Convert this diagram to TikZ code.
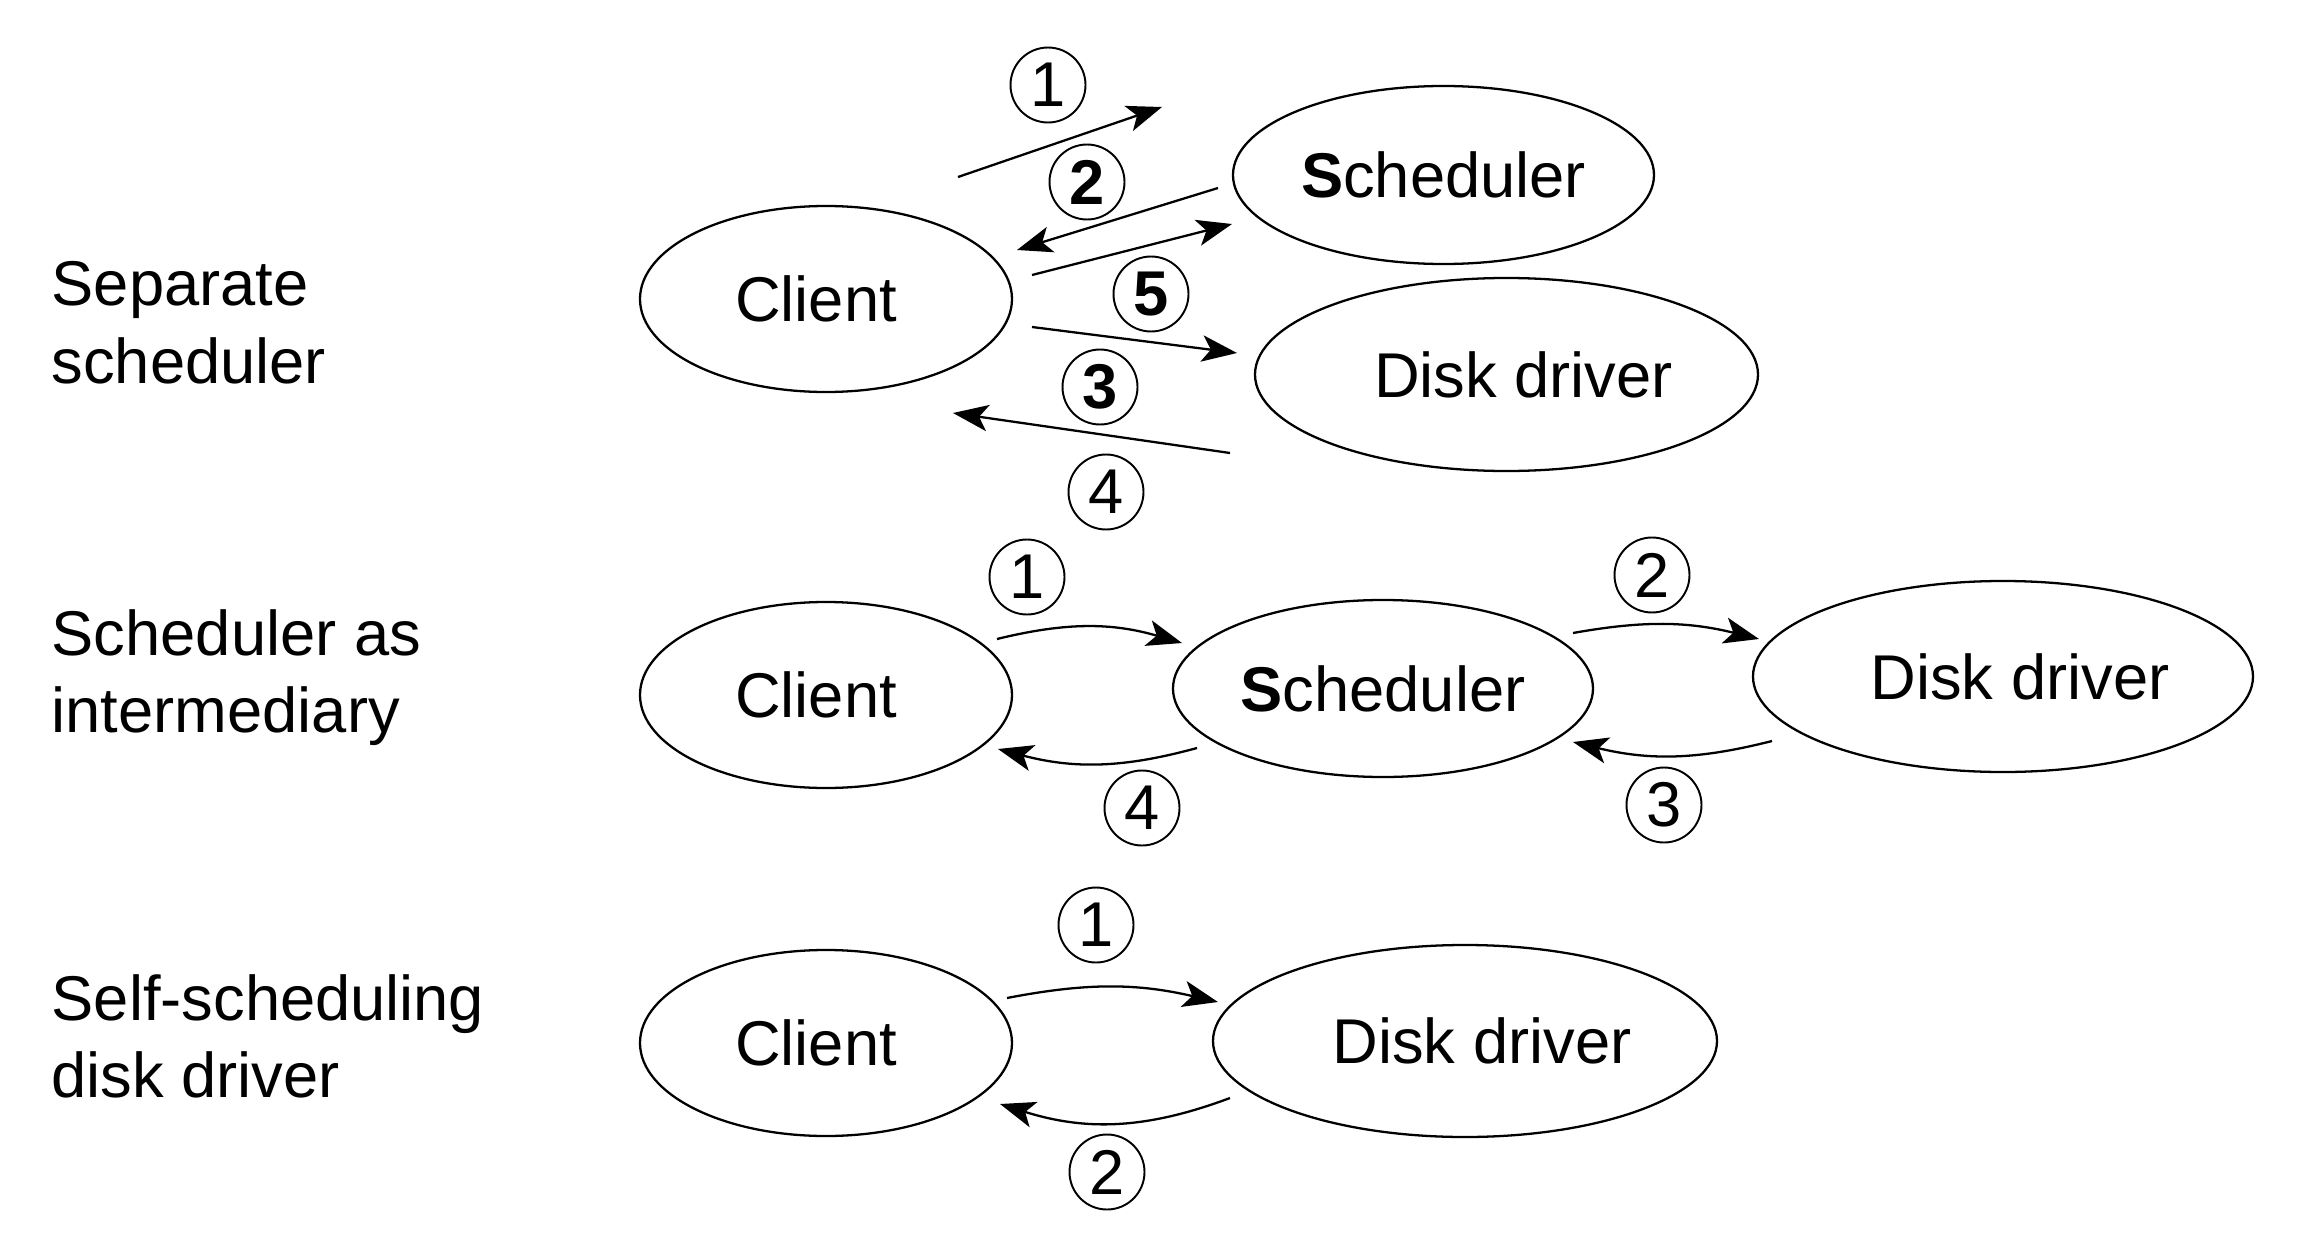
\documentclass[tikz,border=0pt]{standalone}
\usepackage{fontspec}
\setmainfont{Liberation Sans}
\usetikzlibrary{arrows.meta,shapes.geometric}
\begin{document}
\begin{tikzpicture}[x=1cm,y=1cm,
  font=\fontsize{18}{22}\selectfont,
  proc/.style={draw, ellipse, line width=0.65pt, inner sep=0pt},
  num/.style={draw, circle, line width=0.55pt, inner sep=0pt, minimum size=0.75cm},
  rowlabel/.style={anchor=north west, align=left, inner sep=0pt},
  flow/.style={line width=0.65pt, -{Stealth[length=10pt,width=7.5pt,inset=2.5pt]}}
]
\useasboundingbox (0,0) rectangle (23.14,-12.44);

% ---------- left labels ----------
\node[rowlabel] (lab1) at (0.51,-2.61) {Separate\\scheduler};
\node[rowlabel] (lab2) at (0.51,-6.09) {Scheduler as\\intermediary};
\node[rowlabel] (lab3) at (0.51,-9.74) {Self-scheduling\\disk driver};

% ---------- row 1: separate scheduler ----------
\node[proc, minimum width=3.72cm, minimum height=1.86cm] (client1) at (8.26,-2.99) {Client\hspace*{0.2cm}};
\node[proc, minimum width=4.21cm, minimum height=1.78cm] (sched1) at (14.435,-1.75) {\textbf{S}cheduler};
\node[proc, minimum width=5.03cm, minimum height=1.93cm] (disk1) at (15.065,-3.745) {\hspace*{0.34cm}Disk driver};

\coordinate (a1s) at (9.58,-1.77);  \coordinate (a1e) at (11.62,-1.07);
\coordinate (a2s) at (12.18,-1.88); \coordinate (a2e) at (10.17,-2.50);
\coordinate (a5s) at (10.32,-2.75); \coordinate (a5e) at (12.32,-2.24);
\coordinate (a3s) at (10.32,-3.27); \coordinate (a3e) at (12.37,-3.53);
\coordinate (a4s) at (12.30,-4.53); \coordinate (a4e) at (9.53,-4.13);

\draw[flow] (a1s) -- (a1e);
\draw[flow] (a2s) -- (a2e);
\draw[flow] (a5s) -- (a5e);
\draw[flow] (a3s) -- (a3e);
\draw[flow] (a4s) -- (a4e);

\node[num] (n11) at (10.48,-0.85) {1};
\node[num] (n12) at (10.87,-1.82) {\textbf{2}};
\node[num] (n15) at (11.51,-2.94) {\textbf{5}};
\node[num] (n13) at (11.00,-3.87) {\textbf{3}};
\node[num] (n14) at (11.06,-4.92) {4};

% ---------- row 2: scheduler as intermediary ----------
\node[proc, minimum width=3.72cm, minimum height=1.86cm] (client2) at (8.26,-6.95) {Client\hspace*{0.2cm}};
\node[proc, minimum width=4.20cm, minimum height=1.77cm] (sched2) at (13.83,-6.885) {\textbf{S}cheduler};
\node[proc, minimum width=5.00cm, minimum height=1.91cm] (disk2) at (20.03,-6.765) {\hspace*{0.34cm}Disk driver};

\coordinate (b1s) at (9.97,-6.39);  \coordinate (b1e) at (11.82,-6.43);
\coordinate (b4s) at (11.97,-7.48); \coordinate (b4e) at (9.98,-7.49);
\coordinate (b2s) at (15.73,-6.33); \coordinate (b2e) at (17.59,-6.39);
\coordinate (b3s) at (17.72,-7.41); \coordinate (b3e) at (15.73,-7.42);

\draw[flow] (b1s) to[bend left=15] (b1e);
\draw[flow] (b4s) to[bend left=15] (b4e);
\draw[flow] (b2s) to[bend left=12] (b2e);
\draw[flow] (b3s) to[bend left=14] (b3e);

\node[num] (n21) at (10.27,-5.77) {1};
\node[num] (n24) at (11.42,-8.08) {4};
\node[num] (n22) at (16.52,-5.75) {2};
\node[num] (n23) at (16.64,-8.05) {3};

% ---------- row 3: self-scheduling disk driver ----------
\node[proc, minimum width=3.72cm, minimum height=1.86cm] (client3) at (8.26,-10.43) {Client\hspace*{0.2cm}};
\node[proc, minimum width=5.04cm, minimum height=1.92cm] (disk3) at (14.65,-10.41) {\hspace*{0.34cm}Disk driver};

\coordinate (c1s) at (10.07,-9.98);  \coordinate (c1e) at (12.18,-10.02);
\coordinate (c2s) at (12.30,-10.98); \coordinate (c2e) at (10.00,-11.04);

\draw[flow] (c1s) to[bend left=12] (c1e);
\draw[flow] (c2s) to[bend left=19] (c2e);

\node[num] (n31) at (10.96,-9.25) {1};
\node[num] (n32) at (11.07,-11.72) {2};
\end{tikzpicture}
\end{document}
